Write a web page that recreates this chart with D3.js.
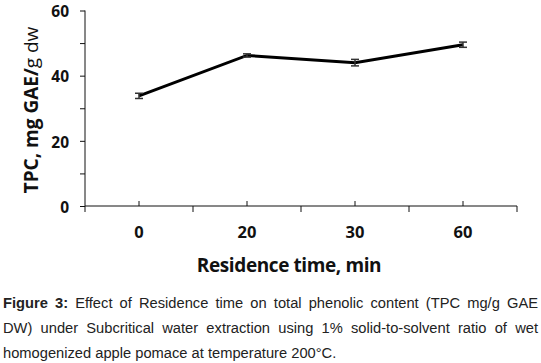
<!DOCTYPE html>
<meta charset="utf-8">
<script src="https://d3js.org/d3.v7.min.js"></script>
<style>
  body { margin: 0; background: #fff; }
  #chart { position: absolute; left: 0; top: 0; }
  .caption { position: absolute; left: 3px; top: 291px; width: 535px;
    font-family: "Liberation Sans", Arial, sans-serif; font-size: 14.7px; line-height: 25px; color: #222; }
  .caption span { display: block; }
  .caption .j { text-align: justify; text-align-last: justify; }
</style>
<div id="chart"></div>
<div class="caption">
  <span class="j"><b>Figure 3:</b> Effect of Residence time on total phenolic content (TPC mg/g GAE</span>
  <span class="j">DW) under Subcritical water extraction using 1% solid-to-solvent ratio of wet</span>
  <span>homogenized apple pomace at temperature 200°C.</span>
</div>
<script>
// residence time categories (min) and TPC values
const times = ["0", "20", "30", "60"];
const tpc = [33.8, 46.2, 44.0, 49.5];
const tpcErr = [0.8, 0.5, 1.0, 0.8];
const yTicks = [0, 20, 40, 60];

const W = 541, H = 290;
const svg = d3.select("#chart").append("svg")
  .attr("width", W).attr("height", H);

const x = d3.scaleBand().domain(times).range([85, 517]);
const y = d3.scaleLinear().domain([0, 60]).range([206, 10.5]);
const cx = d => x(d) + x.bandwidth() / 2;

const font = "'Open Sans', 'DejaVu Sans', sans-serif";

// y axis
const yAxis = svg.append("g").attr("transform", "translate(85,0)")
  .call(d3.axisLeft(y).tickValues(d3.range(0, 61, 10)).tickSize(5)
    .tickFormat(d => yTicks.includes(d) ? d : ""));
yAxis.selectAll("text").attr("font-family", font).attr("font-weight", "bold")
  .attr("font-size", 15.5).attr("fill", "#111").attr("x", -16).attr("dy", 6.3);
yAxis.select(".domain").attr("stroke", "#111").attr("d", `M0,${y(0)}V${y(60)}`);
yAxis.selectAll(".tick line").attr("stroke", "#111");

// x axis
const gx = svg.append("g");
gx.append("line").attr("x1", 85).attr("x2", 517).attr("y1", y(0)).attr("y2", y(0))
  .attr("stroke", "#111");
const bounds = times.map(t => x(t)).concat([x(times[times.length - 1]) + x.bandwidth()]);
gx.selectAll(".bt").data(bounds).join("line")
  .attr("x1", d => d).attr("x2", d => d).attr("y1", y(0)).attr("y2", y(0) + 6)
  .attr("stroke", "#111");
gx.selectAll(".ct").data(times).join("line")
  .attr("x1", d => cx(d)).attr("x2", d => cx(d)).attr("y1", y(0) - 5).attr("y2", y(0))
  .attr("stroke", "#111");
gx.selectAll("text").data(times).join("text")
  .attr("x", d => cx(d)).attr("y", 238)
  .attr("text-anchor", "middle").attr("font-family", font).attr("font-weight", "bold")
  .attr("font-size", 16.5).attr("fill", "#111").text(d => d);

// axis titles
svg.append("text").attr("x", 289).attr("y", 272).attr("text-anchor", "middle")
  .attr("font-family", font).attr("font-weight", "bold").attr("font-size", 19)
  .attr("fill", "#111").attr("letter-spacing", -0.4).text("Residence time, min");

const yt = svg.append("text").attr("transform", "translate(38,110) rotate(-90)")
  .attr("text-anchor", "middle").attr("font-family", font).attr("font-size", 19)
  .attr("fill", "#111");
yt.append("tspan").attr("font-weight", "bold").text("TPC, mg GAE/");
yt.append("tspan").attr("font-weight", "normal").text("g dw");

// line
const pts = times.map((t, i) => ({ t, v: tpc[i], e: tpcErr[i] }));
svg.append("path").datum(pts)
  .attr("fill", "none").attr("stroke", "#000").attr("stroke-width", 3)
  .attr("d", d3.line().x(d => cx(d.t)).y(d => y(d.v)));

// error bars
const eb = svg.selectAll(".eb").data(pts).join("g");
eb.append("line").attr("x1", d => cx(d.t)).attr("x2", d => cx(d.t))
  .attr("y1", d => y(d.v - d.e)).attr("y2", d => y(d.v + d.e)).attr("stroke", "#333").attr("stroke-width", 1.5);
eb.append("line").attr("x1", d => cx(d.t) - 4).attr("x2", d => cx(d.t) + 4)
  .attr("y1", d => y(d.v - d.e)).attr("y2", d => y(d.v - d.e)).attr("stroke", "#333").attr("stroke-width", 1.5);
eb.append("line").attr("x1", d => cx(d.t) - 4).attr("x2", d => cx(d.t) + 4)
  .attr("y1", d => y(d.v + d.e)).attr("y2", d => y(d.v + d.e)).attr("stroke", "#333").attr("stroke-width", 1.5);
</script>
